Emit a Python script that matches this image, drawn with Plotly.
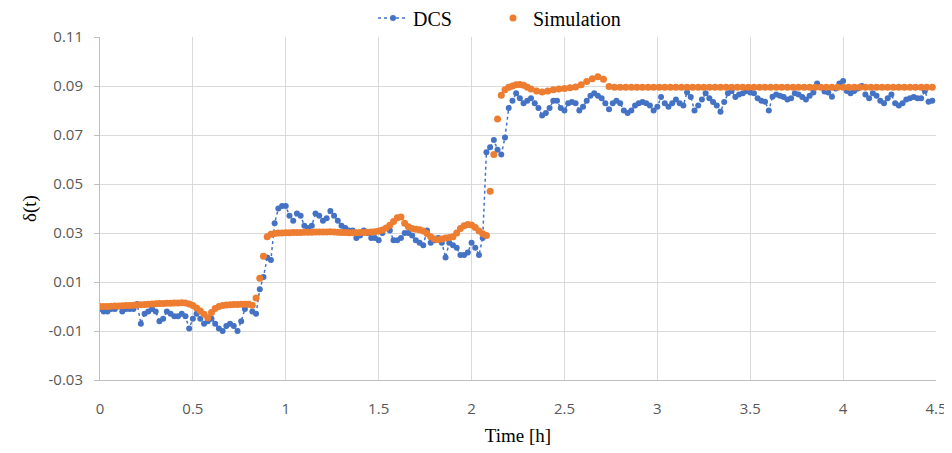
import plotly.graph_objects as go

# ---------------- data ----------------
dcs_step = 0.02  # sampling interval [h]
dcs_values = [
    # 0.00 - 0.84
    -0.001, -0.002, -0.002, -0.001, -0.001, 0.000, -0.002, -0.001, -0.001, -0.001,
    0.001, -0.007, -0.003, -0.002, -0.001, -0.002, -0.006, -0.005, -0.002, -0.003,
    -0.004, -0.004, -0.003, -0.004, -0.009, -0.005, -0.003, -0.005, -0.007, -0.006,
    -0.005, -0.007, -0.009, -0.010, -0.008, -0.007, -0.008, -0.010, -0.006, -0.001,
    0.001, -0.002, -0.003,
    # 0.86 - 2.06
    0.007, 0.012, 0.020, 0.019, 0.034, 0.040, 0.041, 0.041, 0.037, 0.035,
    0.038, 0.037, 0.033, 0.032, 0.033, 0.038, 0.037, 0.035, 0.036, 0.039,
    0.037, 0.035, 0.033, 0.032, 0.031, 0.031, 0.028, 0.029, 0.031, 0.030,
    0.028, 0.028, 0.027, 0.030, 0.032, 0.031, 0.027, 0.027, 0.028, 0.030,
    0.030, 0.029, 0.027, 0.026, 0.025, 0.031, 0.026, 0.027, 0.028, 0.026,
    0.020, 0.026, 0.025, 0.024, 0.021, 0.021, 0.022, 0.026, 0.024, 0.021,
    0.028,
    # 2.08 - 2.48
    0.063, 0.065, 0.068, 0.064, 0.062, 0.069, 0.081, 0.084, 0.087, 0.085,
    0.083, 0.084, 0.085, 0.083, 0.081, 0.078, 0.079, 0.081, 0.084, 0.084,
    0.081,
    # 2.50 - 3.48
    0.080, 0.083, 0.0835, 0.083, 0.080, 0.0815, 0.084, 0.086, 0.087, 0.086,
    0.085, 0.083, 0.0805, 0.083, 0.084, 0.083, 0.080, 0.079, 0.080, 0.082,
    0.083, 0.0835, 0.083, 0.082, 0.080, 0.0815, 0.0855, 0.083, 0.0815, 0.083,
    0.0845, 0.083, 0.082, 0.0875, 0.0855, 0.080, 0.082, 0.0845, 0.087, 0.085,
    0.0835, 0.082, 0.0795, 0.0835, 0.087, 0.088, 0.0855, 0.0865, 0.087, 0.088,
    # 3.50 - 4.48
    0.0873, 0.087, 0.085, 0.084, 0.0836, 0.080, 0.0856, 0.0865, 0.086, 0.0855,
    0.0845, 0.085, 0.087, 0.0865, 0.0855, 0.0845, 0.086, 0.0873, 0.091, 0.0895,
    0.0878, 0.0873, 0.0856, 0.089, 0.091, 0.092, 0.088, 0.087, 0.088, 0.089,
    0.090, 0.0865, 0.085, 0.087, 0.086, 0.084, 0.083, 0.085, 0.0865, 0.083,
    0.082, 0.083, 0.0845, 0.085, 0.0855, 0.085, 0.085, 0.088, 0.0836, 0.084,
]
dcs_time = [round(i * dcs_step, 4) for i in range(len(dcs_values))]

sim_step_fine = 0.02    # 0.00 - 2.30 h
sim_values_fine = [
    0.0000, 0.0000, 0.0000, 0.0001, 0.0002, 0.0002, 0.0003, 0.0004, 0.0004, 0.0005,
    0.0006, 0.0007, 0.0008, 0.0009, 0.0010, 0.0011, 0.0012, 0.0012, 0.0013, 0.0013,
    0.0014, 0.0014, 0.0015, 0.0014, 0.0010, 0.0004, -0.0006, -0.0018, -0.0032, -0.0046,
    -0.0025, -0.0008, 0.0000, 0.0004, 0.0006, 0.0007, 0.0008, 0.0008, 0.0009, 0.0009,
    0.0009, 0.0005, 0.0035, 0.0115, 0.0205, 0.0285, 0.0295, 0.0298, 0.0300, 0.0300,
    0.0301, 0.0301, 0.0302, 0.0302, 0.0302, 0.0303, 0.0303, 0.0303, 0.0304, 0.0304,
    0.0304, 0.0304, 0.0305, 0.0304, 0.0303, 0.0302, 0.0302, 0.0301, 0.0301, 0.0301,
    0.0302, 0.0302, 0.0303, 0.0304, 0.0305, 0.0308, 0.0312, 0.0320, 0.0332, 0.0347,
    0.0362, 0.0365, 0.0340, 0.0325, 0.0318, 0.0315, 0.0313, 0.0308, 0.0298, 0.0285,
    0.0275, 0.0272, 0.0276, 0.0280, 0.0282, 0.0285, 0.0300, 0.0318, 0.0330, 0.0335,
    0.0333, 0.0322, 0.0308, 0.0297, 0.0290, 0.0470, 0.0620, 0.0765, 0.0862, 0.0885,
    0.0895, 0.0900, 0.0905, 0.0906, 0.0903, 0.0895,
]
sim_time_fine = [round(i * sim_step_fine, 4) for i in range(len(sim_values_fine))]

sim_start_coarse = 2.32
sim_step_coarse = 0.03  # 2.32 - 4.48 h
sim_values_coarse = [
    0.0888, 0.0880, 0.0876, 0.0880, 0.0885, 0.0888, 0.0890, 0.0893, 0.0896, 0.0905,
    0.0918, 0.0930, 0.0938, 0.0928, 0.0898, 0.0895,
    0.0895, 0.0895, 0.0895, 0.0895, 0.0895, 0.0895, 0.0895, 0.0895, 0.0895, 0.0895,
    0.0895, 0.0895, 0.0895, 0.0895, 0.0895, 0.0895, 0.0895, 0.0895, 0.0895, 0.0895,
    0.0895, 0.0895, 0.0895, 0.0895, 0.0895, 0.0895, 0.0895, 0.0895, 0.0895, 0.0895,
    0.0895, 0.0895, 0.0895, 0.0895, 0.0895, 0.0895, 0.0895, 0.0895, 0.0895, 0.0895,
    0.0895, 0.0895, 0.0895, 0.0895, 0.0895, 0.0895, 0.0895, 0.0895, 0.0895, 0.0895,
    0.0895, 0.0895, 0.0895, 0.0895, 0.0895, 0.0895, 0.0895,
]
sim_time_coarse = [round(sim_start_coarse + i * sim_step_coarse, 4)
                   for i in range(len(sim_values_coarse))]

sim_time = sim_time_fine + sim_time_coarse
sim_values = sim_values_fine + sim_values_coarse

x_ticks = [0, 0.5, 1, 1.5, 2, 2.5, 3, 3.5, 4, 4.5]
x_tick_labels = ["0", "0.5", "1", "1.5", "2", "2.5", "3", "3.5", "4", "4.5"]
y_ticks = [-0.03, -0.01, 0.01, 0.03, 0.05, 0.07, 0.09, 0.11]
y_tick_labels = ["-0.03", "-0.01", "0.01", "0.03", "0.05", "0.07", "0.09", "0.11"]

# ---------------- figure ----------------
BLUE = "#4472C4"
ORANGE = "#ED7D31"
GRID = "#D9D9D9"
SERIF = "Liberation Serif, Times New Roman, serif"
SANS = "Open Sans, Noto Sans, sans-serif"

# the page body has an 8 px margin, so the figure is 8 px smaller than the window
W, H = 944, 445

fig = go.Figure()
fig.add_trace(go.Scatter(
    x=dcs_time, y=dcs_values, name="DCS", mode="lines+markers",
    line=dict(color=BLUE, width=1.5, dash="dot"),
    marker=dict(color=BLUE, size=6, line=dict(width=0)),
    legend="legend",
))
fig.add_trace(go.Scatter(
    x=sim_time, y=sim_values, name="Simulation", mode="markers",
    marker=dict(color=ORANGE, size=7, line=dict(width=0)),
    legend="legend2",
))

legend_common = dict(orientation="h", xanchor="left",
                     yref="container", y=1 - 10 / H, yanchor="middle",
                     xref="container",
                     font=dict(family=SERIF, size=20, color="black"),
                     bgcolor="rgba(0,0,0,0)")

fig.update_layout(
    width=W, height=H,
    margin=dict(l=92, r=16, t=29, b=73, autoexpand=False),
    paper_bgcolor="white", plot_bgcolor="white",
    showlegend=True,
    legend=dict(x=365 / W, **legend_common),
    legend2=dict(x=485 / W, **legend_common),
    xaxis=dict(
        range=[0, 4.5], tickvals=x_ticks, ticktext=x_tick_labels,
        showgrid=True, gridcolor=GRID, gridwidth=1, automargin=False,
        zeroline=False, showline=True, linecolor="#BFBFBF", linewidth=1,
        ticks="", ticklabelstandoff=15,
        tickfont=dict(family=SANS, size=15, color="#595959"),
        title=dict(text="Time [h]", font=dict(family=SERIF, size=19, color="black"),
                   standoff=11),
    ),
    yaxis=dict(
        range=[-0.03, 0.11], tickvals=y_ticks, ticktext=y_tick_labels,
        showgrid=True, gridcolor=GRID, gridwidth=1, automargin=False,
        zeroline=False, showline=True, linecolor="#BFBFBF", linewidth=1,
        ticks="outside", ticklen=5, tickcolor="#BFBFBF", ticklabelstandoff=8,
        tickfont=dict(family=SANS, size=15, color="#595959"),
        title=dict(text="δ(t)", font=dict(family=SERIF, size=19, color="black"),
                   standoff=6),
    ),
)

fig.write_html("out.html")
